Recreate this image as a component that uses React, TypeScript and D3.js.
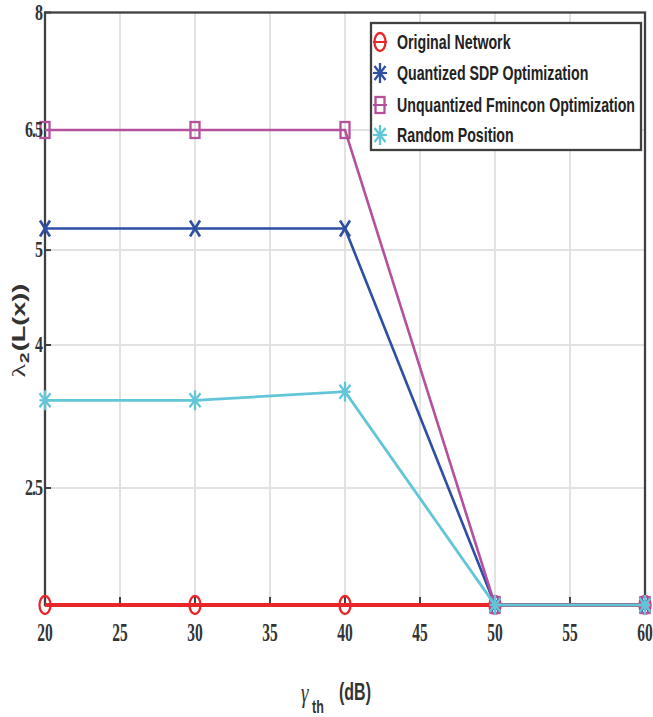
import React from "react";
import * as d3 from "d3";

const X_VALUES = [20, 30, 40, 50, 60];
const ORIGINAL = [1, 1, 1, 1, 1];
const SDP = [5.27, 5.27, 5.27, 1, 1];
const FMINCON = [6.5, 6.5, 6.5, 1, 1];
const RANDOM = [3.42, 3.42, 3.51, 1, 1];
const X_TICKS = [20, 25, 30, 35, 40, 45, 50, 55, 60];
const Y_TICKS = [2.5, 4, 5, 6.5, 8];
const Y_TICK_LABELS = ["2.5", "4", "5", "6.5", "8"];
const Y_BREAKS = [1, 2.5, 4, 5, 6.5, 8];
const SERIES_NAMES = [
  "Original Network",
  "Quantized SDP Optimization",
  "Unquantized Fmincon Optimization",
  "Random Position",
];
const SERIES_COLORS = ["#e8262a", "#2d4ea3", "#b5509e", "#62c6d8"];

const W = 653;
const H = 717;
const L = 45;
const R = 645;
const T = 12.5;
const B = 605;
const SANS = "'Liberation Sans', Arial, sans-serif";
const SERIF = "'Liberation Serif', 'Times New Roman', serif";
const SY = 1.45;

type Kind = "circle" | "x" | "square" | "star";

function Marker({ kind, x, y, color }: { kind: Kind; x: number; y: number; color: string }) {
  if (kind === "circle")
    return <ellipse cx={x} cy={y} rx={5.5} ry={9} fill="none" stroke={color} strokeWidth={2.3} />;
  if (kind === "square")
    return <rect x={x - 4.5} y={y - 8} width={9} height={16} fill="none" stroke={color} strokeWidth={2.3} />;
  if (kind === "x") {
    const a = 5, b = 8;
    return (
      <g stroke={color} strokeWidth={2.6}>
        <line x1={x - a} y1={y - b} x2={x + a} y2={y + b} />
        <line x1={x - a} y1={y + b} x2={x + a} y2={y - b} />
      </g>
    );
  }
  const a = 5.5, b = 10;
  return (
    <g stroke={color} strokeWidth={2.3}>
      <line x1={x} y1={y - b} x2={x} y2={y + b} />
      <line x1={x - a} y1={y} x2={x + a} y2={y} />
      <line x1={x - a} y1={y - b * 0.7} x2={x + a} y2={y + b * 0.7} />
      <line x1={x - a} y1={y + b * 0.7} x2={x + a} y2={y - b * 0.7} />
    </g>
  );
}

export default function App() {
  const xs = d3.scaleLinear().domain([20, 60]).range([L, R]);
  const hpx = B - T;
  const ys = d3
    .scaleLinear()
    .domain(Y_BREAKS)
    .range([B, B - hpx * 0.1975, B - hpx * 0.4388, B - hpx * 0.599, B - hpx * 0.8017, T]);

  const series = [ORIGINAL, SDP, FMINCON, RANDOM];
  const kinds: Kind[] = ["circle", "x", "square", "star"];
  const widths = [3.8, 2.6, 2.6, 2.8];
  const legendKinds: Kind[] = ["circle", "star", "square", "star"];

  const line = d3
    .line<number>()
    .x((_, i) => xs(X_VALUES[i]))
    .y((d) => ys(d));

  const legX = 371, legY = 23, legW = 270, legH = 127;
  const legRows = [42, 73, 105, 135];

  return (
    <svg width={W} height={H} style={{ display: "block", position: "absolute", left: 0, top: 0 }}>
      <rect width={W} height={H} fill="#fff" />
      {/* grid */}
      {X_TICKS.slice(1, -1).map((t) => (
        <line key={"gx" + t} x1={xs(t)} x2={xs(t)} y1={T} y2={B} stroke="#e2e2e2" strokeWidth={2} />
      ))}
      {Y_TICKS.slice(0, -1).map((t) => (
        <line key={"gy" + t} x1={L} x2={R} y1={ys(t)} y2={ys(t)} stroke="#e2e2e2" strokeWidth={2} />
      ))}
      {/* ticks */}
      {X_TICKS.map((t) => (
        <line key={"tx" + t} x1={xs(t)} x2={xs(t)} y1={B} y2={B - 8} stroke="#404040" strokeWidth={2} />
      ))}
      {Y_TICKS.map((t) => (
        <line key={"ty" + t} x1={L} x2={L + 6} y1={ys(t)} y2={ys(t)} stroke="#404040" strokeWidth={2} />
      ))}
      {/* frame */}
      <rect x={L} y={T} width={R - L} height={B - T} fill="none" stroke="#404040" strokeWidth={2.3} />

      {/* series */}
      {series.map((s, si) => (
        <g key={"s" + si}>
          <path d={line(s) || ""} fill="none" stroke={SERIES_COLORS[si]} strokeWidth={widths[si]} />
          {s.map((v, i) => (
            <Marker key={i} kind={kinds[si]} x={xs(X_VALUES[i])} y={ys(v)} color={SERIES_COLORS[si]} />
          ))}
        </g>
      ))}

      {/* tick labels */}
      {X_TICKS.map((t) => (
        <text
          key={"lx" + t}
          transform={`translate(${xs(t)},${641}) scale(1,1.6)`}
          textAnchor="middle"
          fontFamily={SERIF}
          fontWeight="bold"
          fontSize={15.5}
          fill="#333"
        >
          {t}
        </text>
      ))}
      {Y_TICKS.map((t, i) => (
        <text
          key={"ly" + t}
          transform={`translate(${L - 3},${ys(t) + 7}) scale(1,1.45)`}
          textAnchor="end"
          fontFamily={SERIF}
          fontWeight="bold"
          fontSize={16}
          fill="#333"
          letterSpacing={-1}
        >
          {Y_TICK_LABELS[i]}
        </text>
      ))}

      {/* y label */}
      <g transform="translate(25,322) rotate(-90) scale(1.5,1)">
        <text x={-37} y={0} fontFamily={SERIF} fontSize={19} fill="#333">λ</text>
        <text x={-27.5} y={4} fontFamily={SANS} fontWeight="bold" fontSize={13} fill="#333">2</text>
        <text x={-19.5} y={0} fontFamily={SANS} fontWeight="bold" fontSize={18} fill="#333">(L(x))</text>
      </g>

      {/* x label */}
      <g>
        <text transform={`translate(301,702) scale(1,1.45)`} fontFamily={SERIF} fontStyle="italic" fontSize={19} fill="#333">γ</text>
        <text transform={`translate(312,713) scale(1,1.45)`} fontFamily={SANS} fontWeight="bold" fontSize={12.5} fill="#333">th</text>
        <text transform={`translate(339,700) scale(1,1.45)`} fontFamily={SANS} fontWeight="bold" fontSize={16} fill="#333">(dB)</text>
      </g>

      {/* legend */}
      <rect x={legX} y={legY} width={legW} height={legH} fill="#fff" stroke="#404040" strokeWidth={2.3} />
      {SERIES_NAMES.map((n, i) => (
        <g key={"leg" + i}>
          <line x1={373} x2={387} y1={legRows[i]} y2={legRows[i]} stroke={SERIES_COLORS[i]} strokeWidth={2} />
          <Marker kind={legendKinds[i]} x={380} y={legRows[i]} color={SERIES_COLORS[i]} />
          <text
            transform={`translate(397,${legRows[i] + 7}) scale(1,${SY})`}
            fontFamily={SANS}
            fontWeight="bold"
            fontSize={14.2}
            fill="#222"
          >
            {n}
          </text>
        </g>
      ))}
    </svg>
  );
}
